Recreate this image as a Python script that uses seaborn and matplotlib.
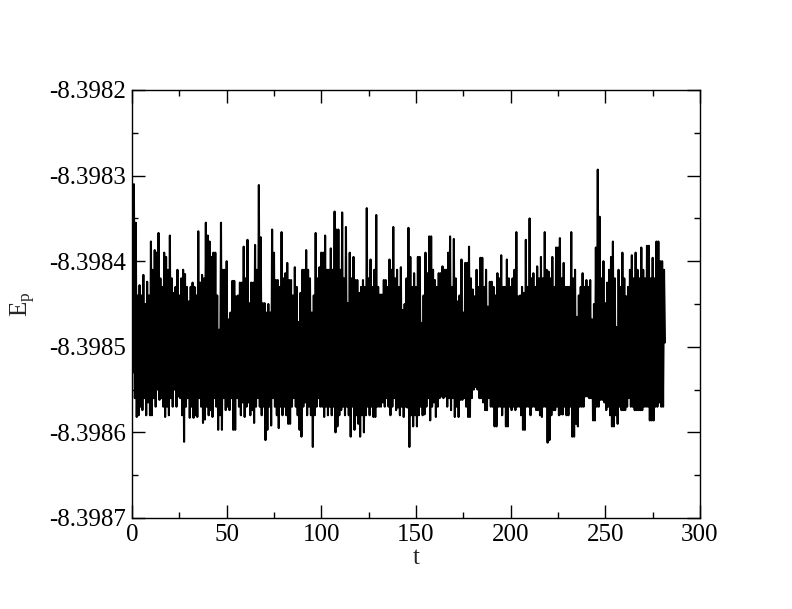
import numpy as np
import pandas as pd
import matplotlib
matplotlib.use("Agg")
import matplotlib.pyplot as plt
import seaborn as sns
from matplotlib.ticker import FixedLocator, FormatStrFormatter

# Series: potential energy E_p vs time t, sampled every 0.5 time units.
# Values are offsets from -8.3985 in units of 1e-5, read off the picture:
# local maxima at integer t, local minima at half-integer t.
base_ep = -8.3985
unit = 1e-5
t_step = 0.5

peaks = [
    5, 19, 14.5, 6, 7.2, 6, 8.4, 5, 7.6, 6,
    12.3, 9, 11.3, 11, 13.3, 8, 7, 11, 10.5, 9,
    13, 8, 6.3, 7, 9, 6, 8, 9, 8.5, 7,
    5.3, 7, 7.5, 7, 6, 13.5, 7.5, 8.4, 8, 14.5,
    13, 12.3, 10.5, 11, 11, 6, 2, 14.5, 9, 9,
    10, 3.2, 4, 7.7, 7.7, 5.9, 6, 7.5, 7.5, 11.7,
    8, 12.5, 5.1, 7.5, 7.5, 11.9, 9, 18.9, 12.8, 5.1,
    5.1, 4, 5, 4, 13.7, 11, 7.8, 7.8, 7, 13.4,
    8, 8.6, 9.8, 7.8, 7.8, 6, 9.3, 7, 2.9, 6.3,
    9, 9, 11.3, 9, 8, 4, 6, 13.3, 8, 9.3,
    11, 11, 13, 9, 9, 11.5, 9, 15.8, 13.7, 13.7,
    9, 15.7, 8, 14, 5.1, 11, 8, 10.5, 7.8, 7.8,
    6.3, 7, 7.8, 7, 16.2, 8, 10.2, 7, 9, 15.4,
    7, 6.1, 6.1, 7.8, 7.8, 7, 10.2, 9, 14, 8,
    9, 7, 9.3, 4.3, 5, 8, 13.9, 10.5, 7, 8.6,
    7, 10.5, 10.5, 2.8, 6, 11, 8.6, 12.9, 12.9, 9,
    7.8, 7, 8.6, 8.6, 9.4, 9, 9, 11, 12.9, 7,
    12.6, 8, 5.3, 6, 10.2, 4, 9.8, 9.8, 11.7, 8,
    6.7, 5.9, 9, 7, 10.4, 10.4, 7, 9, 4.7, 7.6,
    7.6, 7, 6, 8.6, 8, 10.7, 7, 7, 10.2, 8,
    7, 8, 9, 13.4, 5.9, 6, 7, 6.3, 12.5, 7,
    15, 8, 8.6, 7, 9.4, 8, 10.5, 8, 13.4, 9,
    8.8, 8, 10.5, 7, 11.6, 11.6, 12.7, 8, 9.8, 7,
    7, 7, 13.4, 8, 9, 3.5, 6, 7, 8.6, 7,
    7.8, 7, 7.8, 3.2, 5, 11.6, 20.7, 15.2, 8, 10,
    5.1, 7.5, 9, 10.5, 12.3, 8, 2.3, 9, 7, 11,
    8, 5.9, 7, 9, 10.7, 8, 11, 9, 8, 11.6,
    9, 8, 11.8, 11.8, 8, 10.4, 8, 12.3, 12.3, 10,
    10, 9,
]

troughs = [
    -3, -6, -8.2, -8, -7, -7.4, -6, -8, -6.5, -8,
    -8, -6, -7, -5, -6.2, -6, -7, -8.2, -7, -8,
    -6, -7, -5, -7, -5.8, -6, -8, -11.1, -7, -6,
    -8.3, -7, -8.3, -8, -8.2, -6, -7, -8.9, -8.5, -7,
    -8, -7.4, -8.2, -6, -7, -9.7, -8, -9.7, -6, -7.4,
    -7, -7.4, -6, -9.7, -9.7, -6, -7, -8, -6.5, -8.2,
    -7, -6.5, -8, -7.4, -8.9, -7, -6, -7, -8, -7,
    -10.9, -9.7, -7, -9.2, -6, -7, -8, -9.5, -7, -8,
    -7, -8, -9, -9, -7, -6, -7, -8, -9.7, -10.5,
    -7, -6.5, -8, -7, -8, -11.7, -8, -7, -6, -7,
    -7, -8.2, -7, -8, -7, -8, -7, -10, -9.3, -8,
    -7.4, -7, -8, -7, -8, -10.5, -7, -9.7, -8, -9,
    -10.5, -8, -10, -8, -7, -8, -7, -8.2, -8.2, -7,
    -7, -7, -6.5, -7, -6, -7, -8, -7, -6, -7.4,
    -7.1, -8, -7, -8.2, -7, -7.1, -11.7, -8, -9.3, -8,
    -9.3, -8, -7, -8, -7.9, -7, -6, -8.6, -7, -6.5,
    -8.2, -7, -6, -5.8, -6, -5.8, -7, -6, -7.4, -6,
    -8.2, -7, -8.2, -6.2, -6.2, -6, -7, -8.2, -8.2, -6,
    -5, -4.7, -5, -6, -6, -6.5, -7.4, -7.4, -6, -7,
    -7, -9.3, -9.3, -7, -7, -8, -7, -9.3, -9.3, -7,
    -7.4, -7, -7.4, -7, -7, -8, -9.7, -9.7, -7, -7,
    -8, -7, -7, -7.4, -7.4, -8, -8.2, -7, -7, -11.2,
    -10.9, -8, -7.4, -7.4, -7, -8, -7.9, -7.9, -7, -8,
    -8, -7, -10.5, -10.5, -9, -9.3, -7, -7, -7, -5.8,
    -5.8, -6, -6, -8.6, -8.6, -7, -7, -6.2, -6.2, -6.5,
    -7.4, -7, -8, -9.3, -9.3, -8, -9, -7, -7.4, -7.4,
    -7.4, -7, -6, -7, -7, -7.4, -7.4, -7.4, -7.4, -7.4,
    -7, -7, -7, -8.6, -8.6, -8.6, -7, -7, -6.5, -7,
    -7, 0.5,
]

x_ticks = [0, 50, 100, 150, 200, 250, 300]
x_minor = [25, 75, 125, 175, 225, 275]
y_ticks = [-8.3987, -8.3986, -8.3985, -8.3984, -8.3983, -8.3982]
y_minor = [-8.39865, -8.39855, -8.39845, -8.39835, -8.39825]

n = len(peaks)
offs = np.empty(2 * n)
offs[0::2] = peaks
offs[1::2] = troughs
t = np.arange(2 * n) * t_step
df = pd.DataFrame({"t": t, "Ep": base_ep + offs * unit})

sns.set_style("ticks")
plt.rcParams["font.family"] = ["Liberation Serif", "DejaVu Serif"]
plt.rcParams["mathtext.fontset"] = "custom"
plt.rcParams["mathtext.rm"] = "Liberation Serif"
plt.rcParams["mathtext.it"] = "Liberation Serif:italic"
plt.rcParams["axes.unicode_minus"] = False

fig = plt.figure(figsize=(7.92, 6.09), dpi=100)
ax = fig.add_axes([132 / 792, 1 - 518 / 609, 568 / 792, 428 / 609])
sns.lineplot(data=df, x="t", y="Ep", color="black", lw=1.5, ax=ax,
             estimator=None, sort=False)

ax.set_xlim(0, 300)
ax.set_ylim(-8.3987, -8.3982)
ax.xaxis.set_major_locator(FixedLocator(x_ticks))
ax.xaxis.set_minor_locator(FixedLocator(x_minor))
ax.yaxis.set_major_locator(FixedLocator(y_ticks))
ax.yaxis.set_minor_locator(FixedLocator(y_minor))
ax.yaxis.set_major_formatter(FormatStrFormatter("%.4f"))
ax.xaxis.set_major_formatter(FormatStrFormatter("%d"))

ax.tick_params(which="both", direction="in", top=True, right=True,
               width=1.0, colors="black")
ax.tick_params(which="major", length=9.5, labelsize=18, pad=4)
ax.tick_params(which="minor", length=4.5)
for s in ax.spines.values():
    s.set_linewidth(1.0)
    s.set_color("black")

ax.set_xlabel("t", fontsize=18, labelpad=1)
ax.set_ylabel(r"E$_\mathrm{p}$", fontsize=18, labelpad=8)

fig.savefig("out.png", dpi=100)
